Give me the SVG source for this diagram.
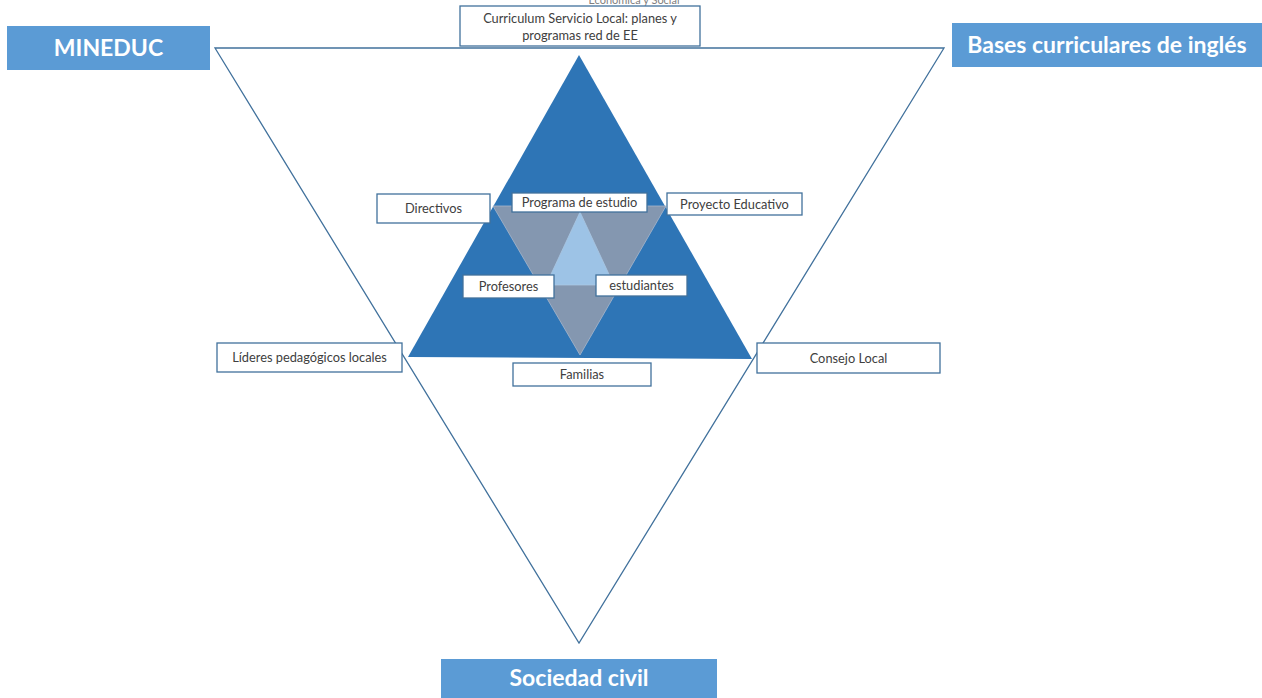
<svg xmlns="http://www.w3.org/2000/svg" width="1262" height="698" viewBox="0 0 1262 698">
  <style>
    text { font-family: Lato, "Open Sans", "Liberation Sans", sans-serif; }
    .box { fill: #ffffff; stroke: #41719C; stroke-width: 1.3; }
    .lbl { font-size: 12.8px; fill: #404040; text-anchor: middle; }
    .head { fill: #5B9BD5; }
    .htxt { font-size: 23px; font-weight: bold; fill: #ffffff; text-anchor: middle; }
  </style>
  <rect width="1262" height="698" fill="#ffffff"/>

  <!-- outer context triangle -->
  <g id="connectors">
    <polygon points="215,48 944,48 579,643" fill="none" stroke="#41719C" stroke-width="1.3"/>
  </g>

  <!-- nested triangles -->
  <g id="core">
    <polygon points="579,55 752,359 408,357" fill="#2E75B6"/>
    <polygon points="493,206 666,206 580,355" fill="#8497B0" stroke="#a9b8cc" stroke-width="0.8"/>
    <polygon points="580,212 614,285 546,285" fill="#9DC3E6" stroke="#a9c6e2" stroke-width="0.8"/>
  </g>

  <text x="634" y="4" font-size="11" fill="#808080" text-anchor="middle">Económica y Social</text>

  <g id="curriculum">
    <rect class="box" x="460" y="6" width="240" height="40"/>
    <text class="lbl" x="580" y="23" font-size="13.2">Curriculum Servicio Local: planes y</text>
    <text class="lbl" x="580" y="40" font-size="13.2">programas red de EE</text>
  </g>
  <g id="directivos">
    <rect class="box" x="377" y="194" width="113" height="29"/>
    <text class="lbl" x="433.5" y="213">Directivos</text>
  </g>
  <g id="programa">
    <rect class="box" x="512" y="193" width="135" height="19"/>
    <text class="lbl" x="579.5" y="207">Programa de estudio</text>
  </g>
  <g id="proyecto">
    <rect class="box" x="667" y="193" width="135" height="22"/>
    <text class="lbl" x="734.5" y="209">Proyecto Educativo</text>
  </g>
  <g id="profesores">
    <rect class="box" x="463" y="275" width="91" height="23"/>
    <text class="lbl" x="508.5" y="291">Profesores</text>
  </g>
  <g id="estudiantes">
    <rect class="box" x="596" y="275" width="91" height="21"/>
    <text class="lbl" x="641.5" y="290">estudiantes</text>
  </g>
  <g id="lideres">
    <rect class="box" x="217" y="343" width="185" height="29"/>
    <text class="lbl" x="309.5" y="362">Líderes pedagógicos locales</text>
  </g>
  <g id="familias">
    <rect class="box" x="513" y="363" width="138" height="23"/>
    <text class="lbl" x="582" y="379">Familias</text>
  </g>
  <g id="consejo">
    <rect class="box" x="757" y="343" width="183" height="30"/>
    <text class="lbl" x="848.5" y="363">Consejo Local</text>
  </g>

  <g id="mineduc">
    <rect class="head" x="7" y="26" width="203" height="44"/>
    <text class="htxt" x="108.5" y="56">MINEDUC</text>
  </g>
  <g id="bases">
    <rect class="head" x="952" y="23" width="310" height="44"/>
    <text class="htxt" x="1107" y="53">Bases curriculares de inglés</text>
  </g>
  <g id="sociedad">
    <rect class="head" x="441" y="659" width="276" height="39"/>
    <text class="htxt" x="579" y="686">Sociedad civil</text>
  </g>
</svg>
